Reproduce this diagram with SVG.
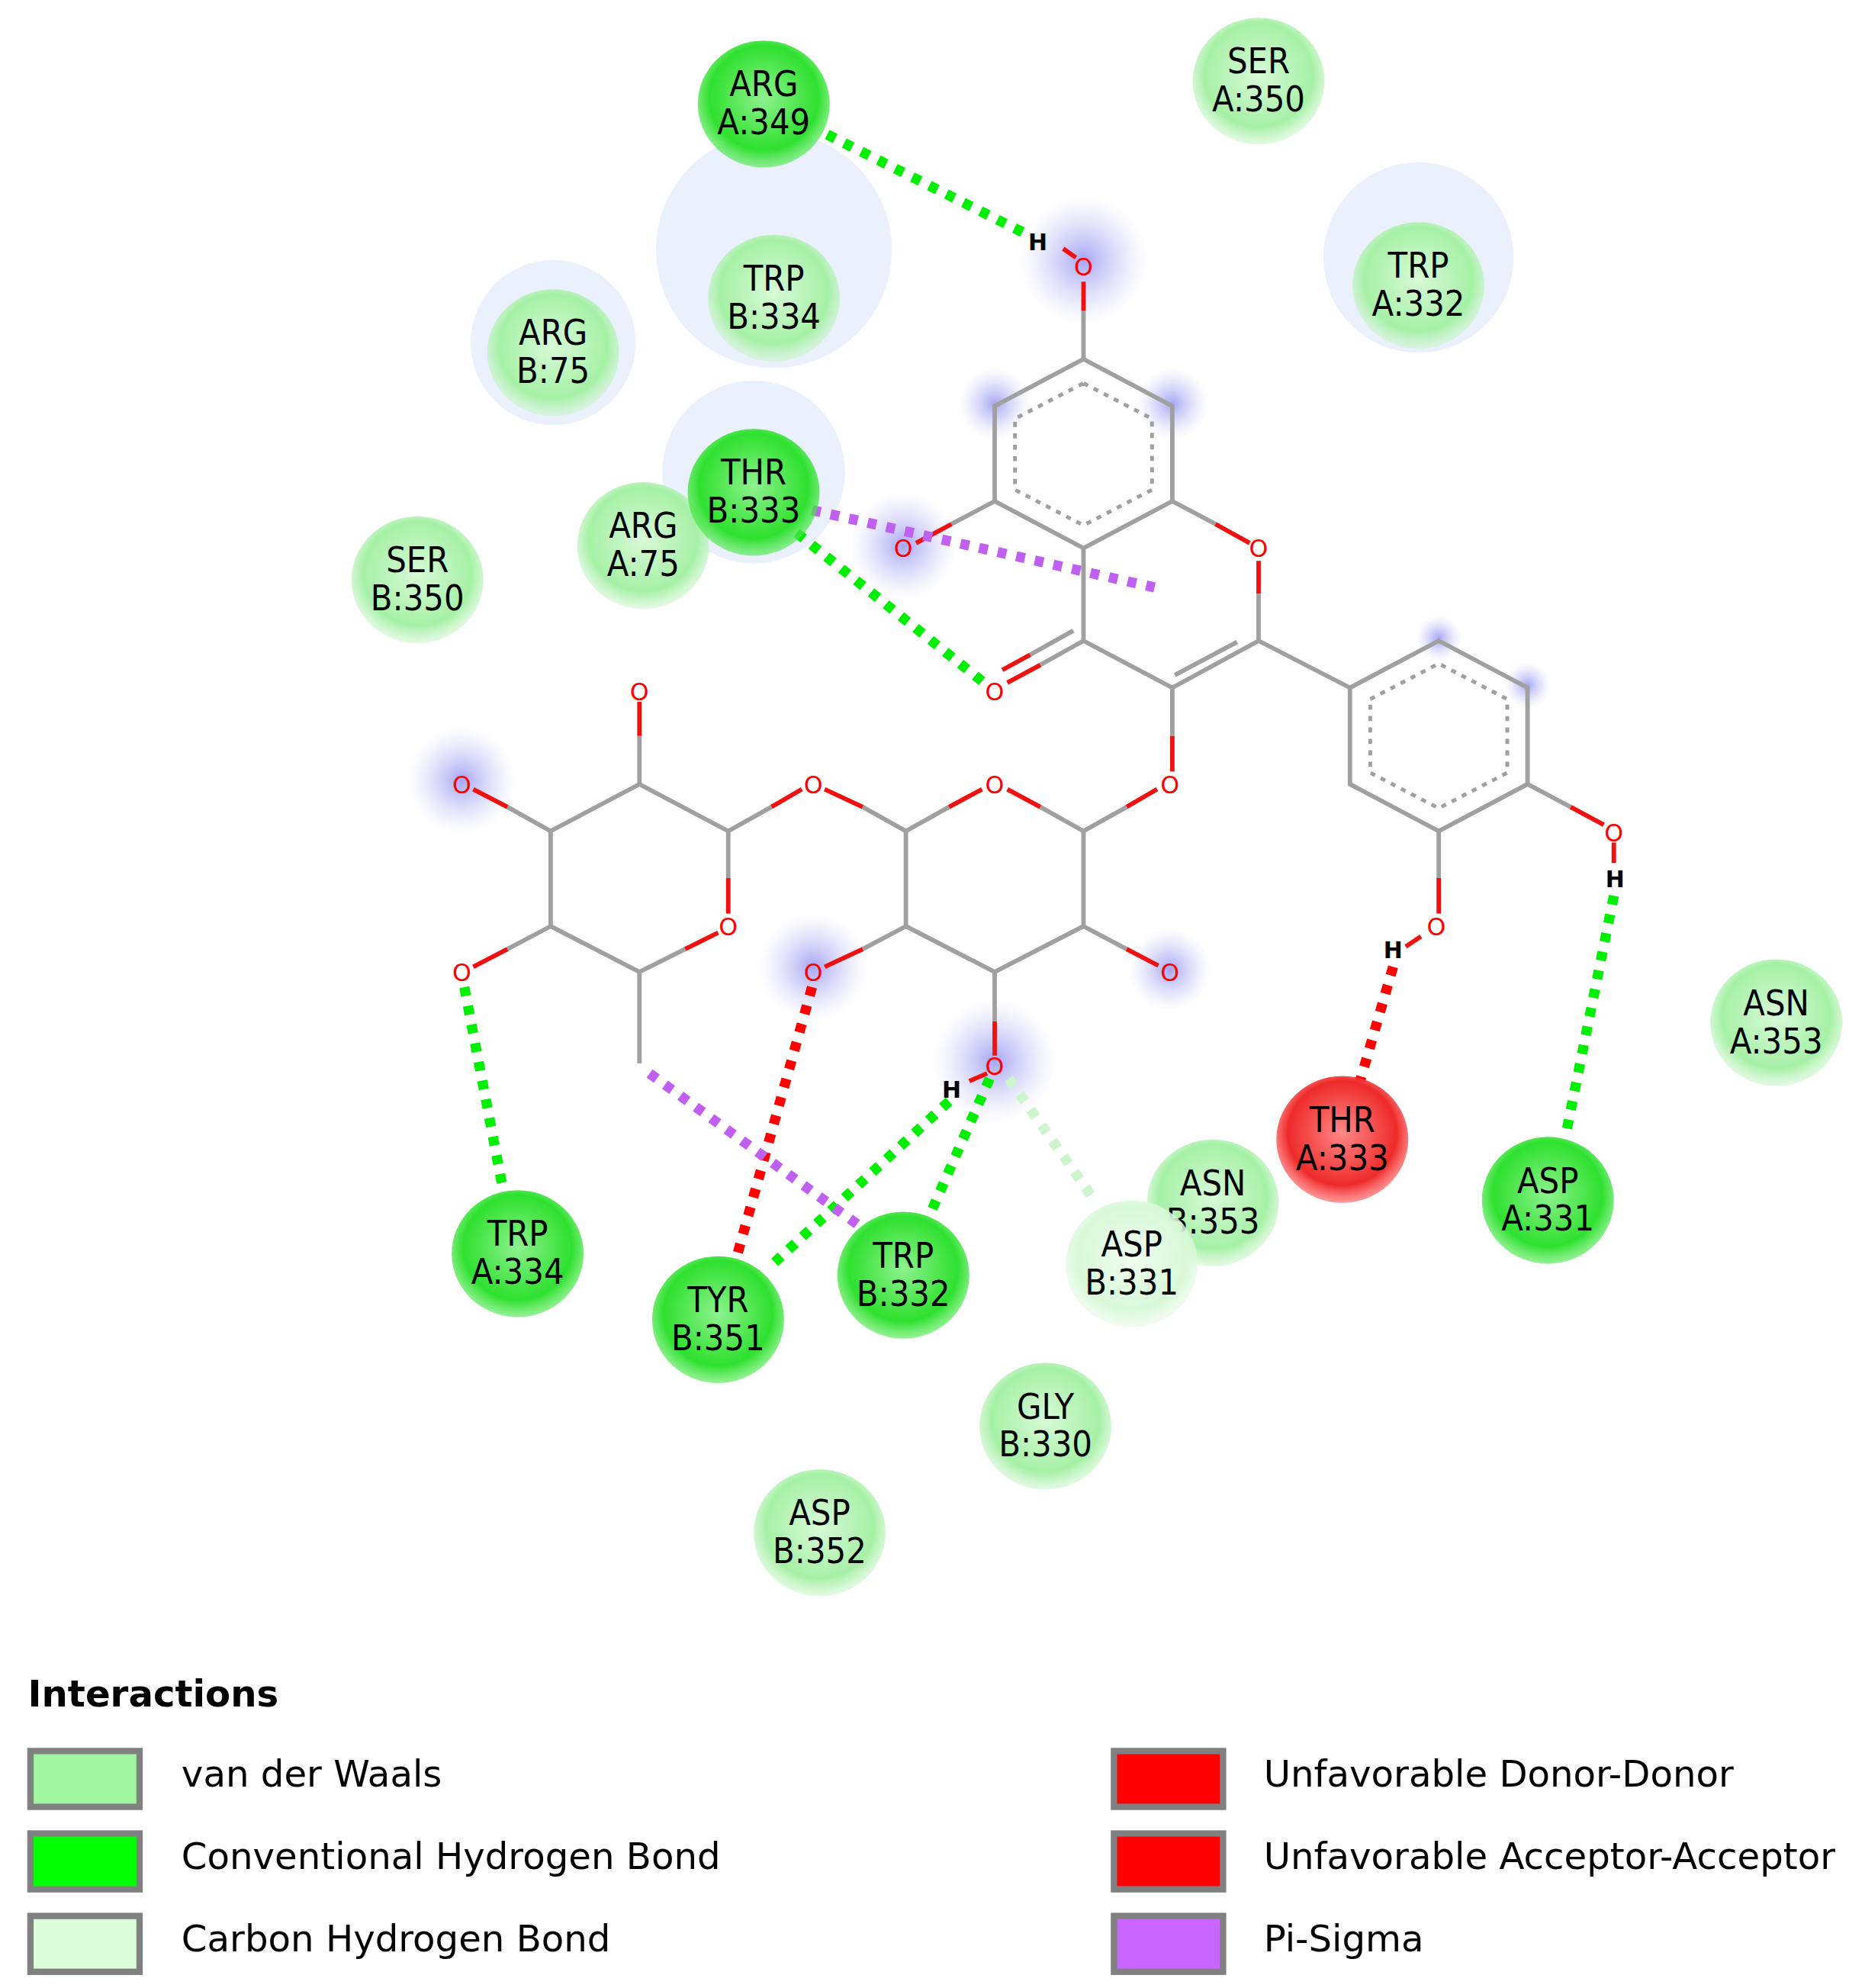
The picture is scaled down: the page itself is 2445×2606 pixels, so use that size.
<svg xmlns="http://www.w3.org/2000/svg" width="2445" height="2606" viewBox="0 0 2445 2606">
<defs>
<radialGradient id="gL" cx="50%" cy="45%" r="55%"><stop offset="0" stop-color="#d8fad8"/><stop offset="0.75" stop-color="#a6f0a6"/><stop offset="1" stop-color="#c8f5c8" stop-opacity="0.5"/></radialGradient>
<radialGradient id="gD" cx="50%" cy="45%" r="55%"><stop offset="0" stop-color="#8ef28e"/><stop offset="0.75" stop-color="#2ee02e"/><stop offset="1" stop-color="#4ee84e" stop-opacity="0.6"/></radialGradient>
<radialGradient id="gC" cx="50%" cy="45%" r="55%"><stop offset="0" stop-color="#f0fdf0"/><stop offset="0.75" stop-color="#d8f8d8"/><stop offset="1" stop-color="#e4fae4" stop-opacity="0.5"/></radialGradient>
<radialGradient id="gR" cx="50%" cy="45%" r="55%"><stop offset="0" stop-color="#f88"/><stop offset="0.75" stop-color="#ee2a2a"/><stop offset="1" stop-color="#f55" stop-opacity="0.6"/></radialGradient>
<radialGradient id="glow"><stop offset="0" stop-color="#9c9cf2" stop-opacity="0.9"/><stop offset="1" stop-color="#c8c8f8" stop-opacity="0"/></radialGradient>
<style>
.res text{font-family:"DejaVu Sans Condensed","Liberation Sans",sans-serif;font-size:28px;text-anchor:middle;fill:#000}
.halo{fill:#e6effb;opacity:0.85}
.b{stroke:#a0a0a0;stroke-width:3.5;fill:none}
.r{stroke:#f01010;stroke-width:3.5;fill:none}
.ar{stroke:#a0a0a0;stroke-width:3;stroke-dasharray:4 5;fill:none}
.o{font-family:"DejaVu Sans","Liberation Sans",sans-serif;font-size:19px;fill:#f00;text-anchor:middle}
.h{font-family:"DejaVu Sans","Liberation Sans",sans-serif;font-size:18px;font-weight:bold;fill:#000;text-anchor:middle}
.hb{stroke:#00ee00;stroke-width:8;stroke-dasharray:7 8;fill:none}
.ch{stroke:#ccf5cc;stroke-width:8;stroke-dasharray:7 8;fill:none}
.un{stroke:#ff0000;stroke-width:8;stroke-dasharray:7 8;fill:none}
.ps{stroke:#c060f0;stroke-width:8;stroke-dasharray:7 8;fill:none}
.lg{font-family:"DejaVu Sans","Liberation Sans",sans-serif;font-size:29px;fill:#000}
.box{stroke:#808080;stroke-width:5}
</style>
</defs>
<rect width="2445" height="2606" fill="#fff"/>
<g transform="scale(1.6633)">
<g id="halos">
<circle class="halo" cx="610" cy="197" r="93"/>
<circle class="halo" cx="1118" cy="203" r="75" opacity="0.6"/>
<circle class="halo" cx="436" cy="270" r="65" opacity="0.3"/>
<circle class="halo" cx="594" cy="372" r="72" opacity="0.6"/>
</g>
<g id="glows">
<circle cx="854" cy="205" r="50" fill="url(#glow)"/>
<circle cx="784" cy="318" r="28" fill="url(#glow)"/>
<circle cx="924" cy="318" r="28" fill="url(#glow)"/>
<circle cx="712" cy="430" r="42" fill="url(#glow)"/>
<circle cx="364" cy="615" r="42" fill="url(#glow)"/>
<circle cx="641" cy="762" r="42" fill="url(#glow)"/>
<circle cx="784" cy="836" r="48" fill="url(#glow)"/>
<circle cx="922" cy="764" r="32" fill="url(#glow)"/>
<circle cx="1134" cy="503" r="18" fill="url(#glow)"/>
<circle cx="1204" cy="540" r="18" fill="url(#glow)"/>
</g>
<g id="molecule">
<path class="b" d="M854,283 L924,320 L924,395 L854,432 L784,395 L784,320 Z"/>
<path class="ar" d="M854,302 L908,330 L908,386 L854,414 L800,386 L800,330 Z"/>
<path class="b" d="M854,283 L854,245"/><path class="r" d="M854,245 L854,222"/>
<path class="b" d="M784,395 L750,413"/><path class="r" d="M750,413 L722,428"/>
<path class="b" d="M924,395 L958,413"/><path class="r" d="M958,413 L985,428"/>
<path class="r" d="M992,442 L992,468"/><path class="b" d="M992,468 L992,505 L924,542 L854,505 L854,432"/>
<path class="b" d="M975,506 L926,532"/>
<path class="b" d="M854,505 L820,524"/><path class="r" d="M820,524 L794,538"/>
<path class="b" d="M846,497 L812,516"/><path class="r" d="M812,516 L790,528"/>
<path class="b" d="M924,542 L924,580"/><path class="r" d="M924,580 L924,608"/>
<path class="b" d="M992,505 L1064,542"/>
<path class="b" d="M1064,542 L1134,505 L1204,542 L1204,618 L1134,655 L1064,618 Z"/>
<path class="ar" d="M1080,551 L1134,523 L1188,551 L1188,609 L1134,637 L1080,609 Z"/>
<path class="b" d="M1204,618 L1238,636"/><path class="r" d="M1238,636 L1264,650"/>
<path class="b" d="M1134,655 L1134,692"/><path class="r" d="M1134,692 L1134,720"/>
<path class="r" d="M912,622 L888,636"/><path class="b" d="M888,636 L854,655 L854,730 L784,766 L714,730 L714,655 L680,636"/><path class="r" d="M680,636 L650,622"/>
<path class="b" d="M854,655 L820,636"/><path class="r" d="M820,636 L794,622"/>
<path class="b" d="M714,655 L748,636"/><path class="r" d="M748,636 L774,622"/>
<path class="b" d="M854,730 L888,748"/><path class="r" d="M888,748 L913,761"/>
<path class="b" d="M784,766 L784,805"/><path class="r" d="M784,805 L784,832"/>
<path class="b" d="M714,730 L680,748"/><path class="r" d="M680,748 L650,762"/>
<path class="r" d="M632,622 L608,636"/><path class="b" d="M608,636 L574,655 L504,618 L434,655 L434,730 L504,766 L540,748"/><path class="r" d="M540,748 L566,735"/>
<path class="b" d="M574,655 L574,692"/><path class="r" d="M574,692 L574,720"/>
<path class="b" d="M504,618 L504,580"/><path class="r" d="M504,580 L504,553"/>
<path class="b" d="M434,655 L400,636"/><path class="r" d="M400,636 L373,622"/>
<path class="b" d="M434,730 L400,748"/><path class="r" d="M400,748 L373,762"/>
<path class="b" d="M504,766 L504,838"/>
<path class="r" d="M838,196 L848,203"/><path class="r" d="M1272,664 L1272,680"/><path class="r" d="M1120,738 L1108,746"/><path class="r" d="M778,846 L764,852"/>
<text class="o" x="854" y="217">O</text><text class="h" x="818" y="197">H</text>
<text class="o" x="712" y="439">O</text><text class="o" x="992" y="439">O</text>
<text class="o" x="784" y="552">O</text><text class="o" x="922" y="625">O</text>
<text class="o" x="1272" y="663">O</text><text class="h" x="1273" y="699">H</text>
<text class="o" x="1132" y="737">O</text><text class="h" x="1098" y="755">H</text>
<text class="o" x="784" y="625">O</text><text class="o" x="641" y="625">O</text>
<text class="o" x="922" y="773">O</text><text class="o" x="784" y="847">O</text><text class="h" x="750" y="865">H</text>
<text class="o" x="641" y="773">O</text><text class="o" x="574" y="737">O</text>
<text class="o" x="504" y="552">O</text><text class="o" x="364" y="625">O</text><text class="o" x="364" y="773">O</text>
</g>
<g id="connectors">
<path class="hb" d="M652,106 L812,186"/>
<path class="hb" d="M628,420 L778,540"/>
<path class="ps" d="M640,402 L910,463"/>
<path class="hb" d="M366,778 L396,935"/>
<path class="un" d="M640,778 L578,1000"/>
<path class="hb" d="M748,868 L605,1000"/>
<path class="hb" d="M780,850 L733,957"/>
<path class="ps" d="M512,846 L680,968"/>
<path class="ch" d="M795,850 L862,945"/>
<path class="un" d="M1098,762 L1072,852"/>
<path class="hb" d="M1272,706 L1235,890"/>
</g>
<g id="residues" class="res">
<g id="ARG_A349"><ellipse cx="602" cy="82" rx="52" ry="50" fill="url(#gD)"/><text x="602" y="76">ARG</text><text x="602" y="106">A:349</text></g>
<g id="SER_A350"><ellipse cx="992" cy="64" rx="52" ry="50" fill="url(#gL)"/><text x="992" y="58">SER</text><text x="992" y="88">A:350</text></g>
<g id="TRP_B334"><ellipse cx="610" cy="235" rx="52" ry="50" fill="url(#gL)"/><text x="610" y="229">TRP</text><text x="610" y="259">B:334</text></g>
<g id="TRP_A332"><ellipse cx="1118" cy="225" rx="52" ry="50" fill="url(#gL)"/><text x="1118" y="219">TRP</text><text x="1118" y="249">A:332</text></g>
<g id="ARG_B75"><ellipse cx="436" cy="278" rx="52" ry="50" fill="url(#gL)"/><text x="436" y="272">ARG</text><text x="436" y="302">B:75</text></g>
<g id="ARG_A75"><ellipse cx="507" cy="430" rx="52" ry="50" fill="url(#gL)"/><text x="507" y="424">ARG</text><text x="507" y="454">A:75</text></g>
<g id="THR_B333"><ellipse cx="594" cy="388" rx="52" ry="50" fill="url(#gD)"/><text x="594" y="382">THR</text><text x="594" y="412">B:333</text></g>
<g id="SER_B350"><ellipse cx="329" cy="457" rx="52" ry="50" fill="url(#gL)"/><text x="329" y="451">SER</text><text x="329" y="481">B:350</text></g>
<g id="ASN_A353"><ellipse cx="1400" cy="806" rx="52" ry="50" fill="url(#gL)"/><text x="1400" y="800">ASN</text><text x="1400" y="830">A:353</text></g>
<g id="ASN_B353"><ellipse cx="956" cy="948" rx="52" ry="50" fill="url(#gL)"/><text x="956" y="942">ASN</text><text x="956" y="972">B:353</text></g>
<g id="THR_A333"><ellipse cx="1058" cy="898" rx="52" ry="50" fill="url(#gR)"/><text x="1058" y="892">THR</text><text x="1058" y="922">A:333</text></g>
<g id="ASP_A331"><ellipse cx="1220" cy="946" rx="52" ry="50" fill="url(#gD)"/><text x="1220" y="940">ASP</text><text x="1220" y="970">A:331</text></g>
<g id="ASP_B331"><ellipse cx="892" cy="996" rx="52" ry="50" fill="url(#gC)"/><text x="892" y="990">ASP</text><text x="892" y="1020">B:331</text></g>
<g id="TRP_A334"><ellipse cx="408" cy="988" rx="52" ry="50" fill="url(#gD)"/><text x="408" y="982">TRP</text><text x="408" y="1012">A:334</text></g>
<g id="TRP_B332"><ellipse cx="712" cy="1005" rx="52" ry="50" fill="url(#gD)"/><text x="712" y="999">TRP</text><text x="712" y="1029">B:332</text></g>
<g id="TYR_B351"><ellipse cx="566" cy="1040" rx="52" ry="50" fill="url(#gD)"/><text x="566" y="1034">TYR</text><text x="566" y="1064">B:351</text></g>
<g id="GLY_B330"><ellipse cx="824" cy="1124" rx="52" ry="50" fill="url(#gL)"/><text x="824" y="1118">GLY</text><text x="824" y="1148">B:330</text></g>
<g id="ASP_B352"><ellipse cx="646" cy="1208" rx="52" ry="50" fill="url(#gL)"/><text x="646" y="1202">ASP</text><text x="646" y="1232">B:352</text></g>
</g>
<g id="legend">
<text class="lg" x="22" y="1345" font-weight="bold">Interactions</text>
<rect class="box" x="24" y="1380" width="86" height="44" fill="#a0f5a0"/><text class="lg" x="143" y="1408">van der Waals</text>
<rect class="box" x="24" y="1445" width="86" height="44" fill="#00ff00"/><text class="lg" x="143" y="1473">Conventional Hydrogen Bond</text>
<rect class="box" x="24" y="1510" width="86" height="44" fill="#dcfcdc"/><text class="lg" x="143" y="1538">Carbon Hydrogen Bond</text>
<rect class="box" x="878" y="1380" width="86" height="44" fill="#ff0000"/><text class="lg" x="996" y="1408">Unfavorable Donor-Donor</text>
<rect class="box" x="878" y="1445" width="86" height="44" fill="#ff0000"/><text class="lg" x="996" y="1473">Unfavorable Acceptor-Acceptor</text>
<rect class="box" x="878" y="1510" width="86" height="44" fill="#c864ff"/><text class="lg" x="996" y="1538">Pi-Sigma</text>
</g>
</g>
</svg>
